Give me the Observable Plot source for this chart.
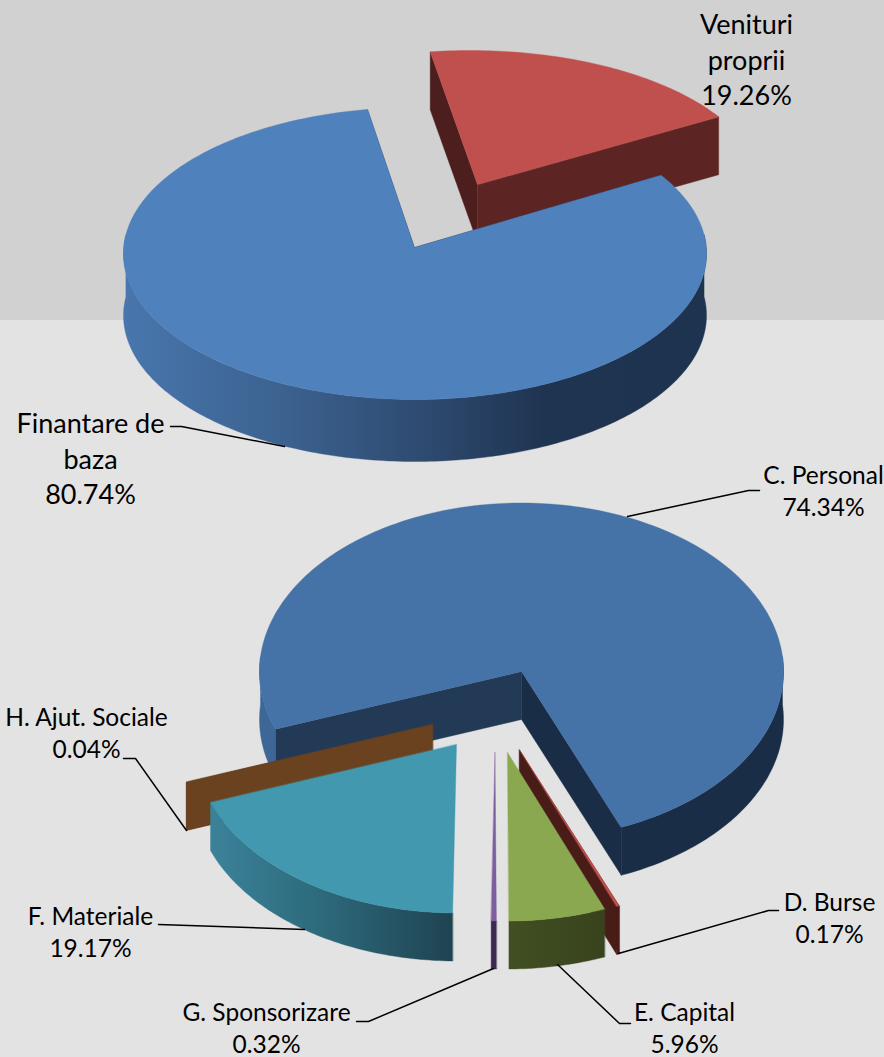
<!DOCTYPE html>
<html><head><meta charset="utf-8">
<style>html,body{margin:0;padding:0;background:#e3e3e3}svg{display:block}</style>
<script src="https://cdn.jsdelivr.net/npm/d3@7"></script>
<script src="https://cdn.jsdelivr.net/npm/@observablehq/plot@0.6"></script>
</head><body><div id="chart"></div>
<script>
// Data
const fundingNames = ["Venituri\nproprii", "Finantare de\nbaza"];
const fundingValues = [19.26, 80.74];
const expenseNames = ["C. Personal", "D. Burse", "E. Capital", "G. Sponsorizare", "F. Materiale", "H. Ajut. Sociale"];
const expenseValues = [74.34, 0.17, 5.96, 0.32, 19.17, 0.04];

// Layout of each exploded slice (pixel space of the x/y scales)
const fundingLayout = [
  {apex:[477,184], centre:[470,190], rx:292, ry:140, depth:58, top:"#c0504d", wall:"#5c2523", startWall:"#4c1e1d", endWall:"#5c2523"},
  {apex:[414,247], centre:[414.5,253], rx:291.5, ry:146, depth:62, top:"#4f81bd", wall:"url(#gBlue)", startWall:"#1e3350", endWall:"#1e3350"}
];
const R = {rx:262, ry:168.5, depth:48};
const expenseLayout = [
  {apex:[521,671], top:"#4572a7", wall:"#1a2d46", wallLeft:"#3d6797", startWall:"#233a57", endWall:"#1a2d46"},
  {apex:[519,749.5], top:"#c0504d", wall:"#4a1c18", startWall:"#4a1c18", endWall:"#4a1c18"},
  {apex:[507,752], top:"#8aa84f", wall:"url(#gGreen)", startWall:null, endWall:null},
  {apex:[494.5,752], top:"#7d5fa0", wall:"#3b2a50", startWall:null, endWall:null},
  {apex:[456,744], top:"#4198af", wall:"url(#gTeal)", startWall:null, endWall:null},
  {apex:[432,724], top:"#6b4220", wall:"#6b4220", startWall:"#6b4220", endWall:"#6b4220"}
].map(d => ({...R, centre:d.apex, ...d}));
const fundingStart = -9.7, expenseStart = 250;
const drawOrder = [0, 1, 5, 4, 3, 2];

const labelPlaces = [
  {x:746,y:57.5,size:27,lh:1.33},{x:90,y:456.5,size:27,lh:1.33},
  {x:823,y:489,size:24.5,lh:1.31},{x:829,y:916,size:24.5,lh:1.31},{x:684,y:1026,size:24.5,lh:1.31},
  {x:266,y:1026,size:24.5,lh:1.31},{x:90,y:930,size:24.5,lh:1.31},{x:86,y:731,size:24.5,lh:1.31}
];
const leaders = [
  [[170,426],[181,426],[284,446]],
  [[627,516],[748,490],[759,490]],
  [[618,953],[768,910],[778,910]],
  [[557,964],[619,1023],[630,1023]],
  [[493,968],[368,1021],[356,1021]],
  [[158,924],[304,929]],
  [[123,758],[135,758],[186,830]]
];

// Geometry: a ray from the apex at a true pie angle meets the rim ellipse
function rim(s, deg) {
  const t = deg * Math.PI / 180, dx = Math.sin(t), dy = -Math.cos(t);
  const ox = (s.apex[0]-s.centre[0])/s.rx, oy = (s.apex[1]-s.centre[1])/s.ry;
  const b = ox*dx + oy*dy, k = -b + Math.sqrt(b*b - (ox*ox+oy*oy-1));
  return [s.centre[0] + s.rx*(ox+k*dx), s.centre[1] + s.ry*(oy+k*dy)];
}
function arc(s, a, b) {
  const out = [];
  for (let d = a; d < b; d += 1) out.push(rim(s, d));
  out.push(rim(s, b));
  return out;
}
const down = (p, s) => [p[0], p[1] + s.depth];
function polygon(pts, fill) {
  const rows = pts.map(p => ({x:p[0], y:p[1]}));
  return Plot.line(rows, {x:"x", y:"y", fill, stroke:fill, strokeWidth:0.4, curve:"linear-closed"});
}
function sliceMarks(s, a, b) {
  const marks = [];
  const quad = deg => { const r = rim(s, deg); return [s.apex, r, down(r, s), down(s.apex, s)]; };
  if (s.startWall) marks.push(polygon(quad(a), s.startWall));
  if (s.endWall) marks.push(polygon(quad(b), s.endWall));
  for (let k = -1; k <= 1; k++) {
    const lo = Math.max(a, 85 + 360*k), hi = Math.min(b, 275 + 360*k);
    if (hi > lo) {
      const edge = arc(s, lo, hi);
      const fill = (s.wallLeft && k === 0) ? s.wallLeft : s.wall;
      marks.push(polygon([...edge, ...edge.map(p => down(p, s)).reverse()], fill));
    }
  }
  marks.push(polygon([s.apex, ...arc(s, a, b)], s.top));
  return marks;
}
function angles(values, start) {
  let acc = start;
  return values.map(v => { const a = acc; acc += v * 3.6; return [a, acc]; });
}
const fundingAngles = angles(fundingValues, fundingStart);
const expenseAngles = angles(expenseValues, expenseStart);

const pct = d3.format(".2f");
const labelRows = [
  ...fundingNames.map((n,i) => ({text:`${n}\n${pct(fundingValues[i])}%`})),
  ...expenseNames.map((n,i) => ({text:`${n}\n${pct(expenseValues[i])}%`}))
].map((d,i) => ({...d, ...labelPlaces[i]}));

const marks = [
  Plot.rect([{x1:0,x2:884,y1:0,y2:320}], {x1:"x1",x2:"x2",y1:"y1",y2:"y2",fill:"#d1d1d1"}),
  Plot.rect([{x1:0,x2:884,y1:320,y2:1057}], {x1:"x1",x2:"x2",y1:"y1",y2:"y2",fill:"#e3e3e3"}),
  ...sliceMarks(fundingLayout[0], ...fundingAngles[0]),
  ...sliceMarks(fundingLayout[1], ...fundingAngles[1]),
  ...drawOrder.flatMap(i => sliceMarks(expenseLayout[i], ...expenseAngles[i])),
  ...leaders.map(l => Plot.line(l.map(p => ({x:p[0],y:p[1]})), {x:"x",y:"y",stroke:"#000",strokeWidth:1.5})),
  ...labelRows.map(d => Plot.text([d], {x:"x",y:"y",text:"text",fontSize:d.size,lineHeight:d.lh,fontFamily:"Lato",fill:"#000",textAnchor:"middle"}))
];

const svg = Plot.plot({
  width:884, height:1057, margin:0,
  x:{domain:[0,884], range:[0,884], axis:null},
  y:{domain:[0,1057], range:[0,1057], axis:null},
  marks
});
const defs = d3.select(svg).insert("defs", ":first-child");
function grad(id, stops) {
  const g = defs.append("linearGradient").attr("id", id);
  stops.forEach(([o,c]) => g.append("stop").attr("offset", o).attr("stop-color", c));
}
grad("gBlue", [[0,"#4876ad"],[0.27,"#3c6290"],[0.5,"#2f4c72"],[0.72,"#1f3451"],[1,"#1e3350"]]);
grad("gTeal", [[0,"#3b8299"],[0.45,"#2d6a7c"],[1,"#1f4351"]]);
grad("gGreen", [[0,"#414f22"],[1,"#38431d"]]);
document.getElementById("chart").appendChild(svg);
</script></body></html>
